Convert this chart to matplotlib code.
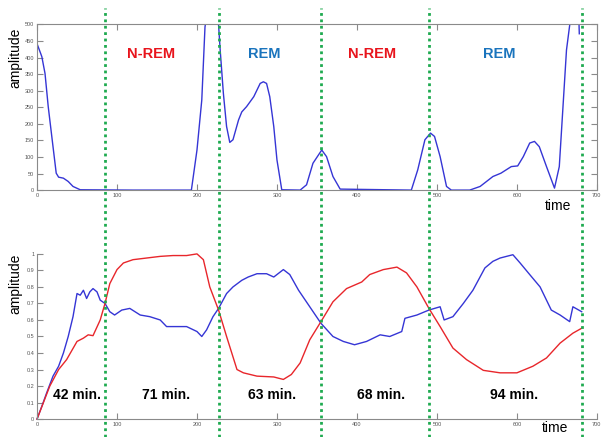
import numpy as np
import matplotlib.pyplot as plt
from matplotlib.lines import Line2D
from matplotlib.transforms import blended_transform_factory

plt.rcParams['font.family'] = ['Liberation Sans', 'DejaVu Sans']

# top panel: amplitude of one band (blue)
top_t = [0, 6, 10, 14, 20, 24, 27, 33, 39, 45, 54, 120, 193, 200, 206, 210, 214,
         224, 227, 229, 233, 237, 241, 245, 252, 256, 262, 271, 279, 283, 287,
         291, 296, 300, 306, 329, 337, 345, 356, 362, 370, 379, 468, 476, 485,
         492, 497, 504, 512, 518, 541, 554, 570, 580, 593, 601, 608, 616, 622,
         628, 637, 647, 653, 662, 666, 670, 677, 678]
top_amp = [442, 403, 352, 252, 131, 51, 39, 36, 26, 11, 1, 0, 0, 121, 272, 492, 560,
           560, 498, 423, 292, 192, 144, 152, 212, 236, 252, 282, 322, 327, 322,
           282, 192, 91, 1, 0, 16, 81, 121, 101, 41, 3, 0, 61, 152,
           172, 162, 101, 11, 0, 0, 11, 41, 51, 71, 73, 101, 142, 147,
           131, 71, 6, 71, 423, 498, 560, 560, 472]

# bottom panel: two normalised curves
blue_t = [0, 6, 12, 20, 27, 33, 39, 45, 50, 54, 58, 62, 66, 70, 75, 79, 85, 91, 97,
          106, 116, 129, 141, 154, 162, 175, 187, 200, 206, 212, 220, 227, 237,
          245, 256, 264, 275, 287, 296, 308, 316, 327, 341, 355, 370, 383, 397,
          412, 429, 441, 456, 460, 475, 490, 504, 509, 520, 533, 545, 560, 570,
          579, 595, 604, 616, 629, 643, 654, 666, 670, 681]
blue_amp = [0, 0.077, 0.158, 0.26, 0.32, 0.40, 0.50, 0.62, 0.76, 0.75, 0.78, 0.73,
            0.77, 0.79, 0.77, 0.72, 0.70, 0.65, 0.63, 0.66, 0.67, 0.63, 0.62, 0.60,
            0.56, 0.56, 0.56, 0.53, 0.50, 0.54, 0.62, 0.67, 0.76, 0.80, 0.84, 0.86,
            0.88, 0.88, 0.86, 0.905, 0.875, 0.78, 0.68, 0.58, 0.50, 0.47, 0.45,
            0.47, 0.51, 0.50, 0.53, 0.61, 0.63, 0.66, 0.68, 0.60, 0.62, 0.70, 0.78,
            0.915, 0.955, 0.975, 0.995, 0.945, 0.875, 0.80, 0.66, 0.63, 0.59, 0.68,
            0.65]
red_t = [0, 8, 16, 27, 37, 50, 58, 64, 70, 79, 85, 91, 100, 108, 120, 137, 154,
         170, 187, 200, 208, 216, 227, 237, 250, 258, 275, 296, 308, 318, 329,
         341, 355, 370, 387, 406, 416, 433, 450, 462, 475, 490, 504, 520, 537,
         558, 579, 600, 620, 637, 654, 670, 681]
red_amp = [0, 0.10, 0.20, 0.30, 0.36, 0.47, 0.49, 0.51, 0.505, 0.60, 0.70, 0.82,
           0.905, 0.945, 0.965, 0.975, 0.985, 0.99, 0.99, 1.0, 0.965, 0.80, 0.66,
           0.50, 0.30, 0.28, 0.26, 0.255, 0.24, 0.27, 0.34, 0.48, 0.59, 0.71, 0.79,
           0.83, 0.875, 0.905, 0.92, 0.885, 0.80, 0.67, 0.56, 0.43, 0.36, 0.295,
           0.28, 0.28, 0.32, 0.37, 0.46, 0.52, 0.55]

stage_edges = [85, 227.5, 355, 490, 681]
stage_names = ['N-REM', 'REM', 'N-REM', 'REM']
stage_x = [142, 284, 419, 578]
durations = ['42 min.', '71 min.', '63 min.', '68 min.', '94 min.']
dur_x = [50, 161, 294, 430, 596]

gray = '#8a8a8a'
fig = plt.figure(figsize=(6.02, 4.37), dpi=100)
ax1 = fig.add_axes([0.0615, 0.565, 0.930, 0.379])
ax2 = fig.add_axes([0.0615, 0.041, 0.930, 0.378])

ax1.plot(top_t, top_amp, color='#3535d5', lw=1.0)
ax1.set_xlim(0, 700)
ax1.set_ylim(0, 500)
ax1.set_xticks(range(0, 701, 100))
ax1.set_yticks(range(0, 501, 50))
ax1.tick_params(direction='in', top=True, right=True, length=4, color=gray,
                labelsize=4, labelcolor='#555555', pad=2)
for s in ax1.spines.values():
    s.set_color(gray)

ax2.plot(blue_t, blue_amp, color='#3535d5', lw=1.0, clip_on=False)
ax2.plot(red_t, red_amp, color='#e8262b', lw=1.0, clip_on=False)
ax2.set_xlim(0, 700)
ax2.set_ylim(0, 1)
ax2.set_xticks(range(0, 701, 100))
ax2.set_yticks(np.arange(0, 1.01, 0.1))
ax2.set_yticklabels(['0', '0.1', '0.2', '0.3', '0.4', '0.5', '0.6', '0.7', '0.8', '0.9', '1'])
ax2.tick_params(direction='in', length=4, color=gray, labelsize=4,
                labelcolor='#555555', pad=2)
ax2.spines['top'].set_visible(False)
ax2.spines['right'].set_visible(False)
for s in ax2.spines.values():
    s.set_color(gray)

for ax, yc in [(ax1, 0.80), (ax2, 0.82)]:
    ax.set_ylabel('amplitude', fontsize=10)
    ax.yaxis.set_label_coords(-0.027, yc)
ax1.text(0.93, -0.097, 'time', transform=ax1.transAxes, fontsize=10,
         ha='center', va='center')
ax2.text(0.925, -0.055, 'time', transform=ax2.transAxes, fontsize=10,
         ha='center', va='center')

for name, x in zip(stage_names, stage_x):
    c = '#e8141c' if name == 'N-REM' else '#1a74bd'
    ax1.text(x, 411, name, color=c, fontsize=10.5, fontweight='bold',
             ha='center', va='center')
for d, x in zip(durations, dur_x):
    ax2.text(x, 0.145, d, fontsize=10, fontweight='bold', ha='center', va='center')

tr = blended_transform_factory(ax1.transData, fig.transFigure)
for x in stage_edges:
    fig.add_artist(Line2D([x, x], [0.0, 0.982], transform=tr, color='#1faa50',
                          lw=2, linestyle=(0, (1, 1.3))))

fig.savefig('out.png', dpi=100)
